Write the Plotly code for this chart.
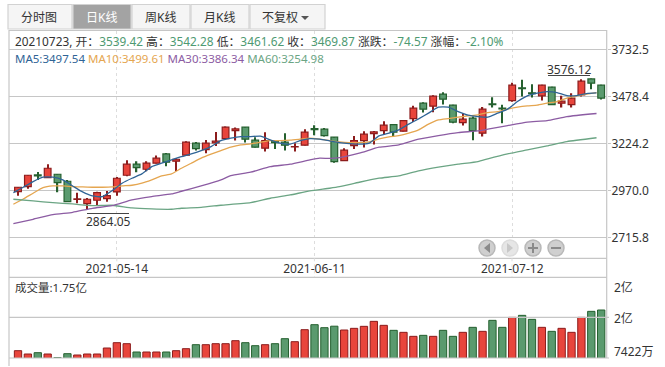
import plotly.graph_objects as go

dates = ["2021-04-27","2021-04-28","2021-04-29","2021-04-30","2021-05-06","2021-05-07","2021-05-10","2021-05-11","2021-05-12","2021-05-13",
"2021-05-14","2021-05-17","2021-05-18","2021-05-19","2021-05-20","2021-05-21","2021-05-24","2021-05-25","2021-05-26","2021-05-27",
"2021-05-28","2021-05-31","2021-06-01","2021-06-02","2021-06-03","2021-06-04","2021-06-07","2021-06-08","2021-06-09","2021-06-10",
"2021-06-11","2021-06-15","2021-06-16","2021-06-17","2021-06-18","2021-06-21","2021-06-22","2021-06-23","2021-06-24","2021-06-25",
"2021-06-28","2021-06-29","2021-06-30","2021-07-01","2021-07-02","2021-07-05","2021-07-06","2021-07-07","2021-07-08","2021-07-09",
"2021-07-12","2021-07-13","2021-07-14","2021-07-15","2021-07-16","2021-07-19","2021-07-20","2021-07-21","2021-07-22","2021-07-23"]

opens = [2963.5,2990.6,3054,3039.3,3057.7,3019.9,2921.3,2898.6,2917,2925.6,
2961.9,3052.3,3111.9,3084.8,3117.3,3167.6,3128.1,3160.6,3225.6,3190.9,
3227.2,3250.5,3293.8,3312.2,3241.8,3198.5,3238,3231,3205.5,3214.8,
3304.6,3301.4,3258.1,3131.4,3212.6,3239.6,3277.6,3293.8,3326.3,3290.5,
3358.8,3442.1,3425.9,3490.9,3431.3,3337.1,3360.9,3279.7,3438.3,3415,
3456.2,3525,3497.9,3481.7,3528.8,3442.1,3434.6,3487.1,3573,3539.42]
highs = [2989,3053.9,3070.2,3111.9,3059.4,3026.9,2958.1,2929.4,2963.5,2967.3,
3043.1,3133.5,3128.1,3128.1,3158.4,3173,3144.4,3236.4,3232.6,3243.4,
3286.8,3315.5,3310,3313.8,3258.1,3285.1,3243.4,3279.7,3225.6,3301.4,
3323,3308.4,3259.7,3198.5,3265.1,3290.5,3292.2,3344.7,3328.4,3351.7,
3427.5,3447.5,3485.4,3501.7,3432.9,3388,3369.6,3422,3474.6,3432.9,
3552,3568.3,3545,3541.2,3530.4,3481.7,3496.3,3572,3576.12,3542.28]
lows = [2941.9,2979.8,3026.9,3037.7,2960.3,2907.8,2900.7,2864.05,2886.1,2909.4,
2941.9,3047,3068.6,3074,3115.2,3101,3075.6,3156.8,3185.5,3171.4,
3211,3248.9,3239.6,3228.8,3201.8,3180.1,3194.7,3185.5,3180.1,3213.7,
3268.9,3262.4,3120.5,3129.7,3194.7,3201.8,3218,3272.1,3263.5,3289.4,
3340.9,3391.2,3393.4,3434.6,3333.8,3320.9,3241.8,3261.3,3418.3,3333.8,
3449.2,3477.9,3472.4,3456.2,3432.9,3418.3,3418.3,3477.9,3517.9,3461.62]
closes = [2987.4,3052.3,3048.5,3090.2,3012.3,2909.4,2924,2922.4,2958.1,2941.9,
3036.1,3111.9,3093.5,3117.3,3144.4,3122.7,3138.9,3231,3196.3,3225.6,
3236.4,3312.2,3303,3247.2,3203.9,3239.6,3228.8,3214.8,3207.2,3285.1,
3299.2,3266.7,3126,3187.7,3239.6,3274.3,3286.8,3323,3285.1,3347.9,
3415,3409.6,3480,3463.8,3339.3,3355.5,3293.8,3409.6,3434.6,3411.3,
3539.6,3521.2,3494.1,3539.6,3434.6,3452.9,3469.2,3561.2,3550.4,3469.87]
volumes = [0.896,0.826,0.854,0.826,0.749,0.833,0.805,0.826,0.826,0.952,
1.064,1.043,0.868,0.868,0.868,0.868,0.896,0.938,1.022,1.022,
1.043,1.043,1.106,1.064,1.001,1.022,1.043,1.148,1.085,1.337,
1.442,1.379,1.41,1.33,1.365,1.407,1.512,1.428,1.323,1.281,
1.197,1.218,1.197,1.323,1.197,1.281,1.386,1.302,1.533,1.386,
1.596,1.638,1.554,1.386,1.302,1.365,1.281,1.596,1.722,1.75]

ma5 = [2958.1,2987.4,3017.7,3041.5,3041.5,3026.9,2994.4,2961.9,2940.3,2936.5,
2969,3009,3036.1,3059.4,3098.9,3117.3,3135.2,3153,3167.6,3185.5,
3207.2,3239.6,3252.6,3261.3,3261.3,3263.5,3243.4,3225.6,3220.2,3239.6,
3250.5,3247.2,3238,3228.8,3223.4,3220.2,3225.6,3265.1,3279.7,3297.6,
3328.4,3357.1,3388,3420.5,3420.5,3396.6,3377.2,3369.6,3366.3,3388,
3409.6,3450.8,3481.7,3496.3,3504.9,3499.5,3483.3,3483.3,3494.1,3497.54]
ma10 = [2895.3,2924,2954.9,2985.2,2994.4,2994.4,2990.6,2989,2987.4,2987.4,
2989,2994.4,2998.2,3009,3026.9,3048.5,3059.4,3090.2,3117.3,3144.4,
3166,3185.5,3203.9,3216.4,3221.8,3231,3239.6,3239.6,3241.8,3247.2,
3252.6,3247.2,3239.6,3232.6,3228.8,3228.8,3232.6,3248.9,3259.7,3266.7,
3279.7,3297.6,3328.4,3351.7,3358.8,3366.3,3373.4,3378.8,3391.2,3396.6,
3409.6,3420.5,3427.5,3431.3,3442.1,3450.8,3469.2,3481.7,3490.9,3499.61]
ma30_days = [0,2,4,6,8,10,12,14,16,17,19,21,22,24,26,28,30,31,32,33,35,37,39,41,43,45,47,48,50,52,54,56,59]
ma30 = [2790.3,2814.1,2839,2852,2873.6,2887.7,2918.6,2936.5,2951.1,2965.7,2994.4,3026.9,3050.2,3068.6,3098.9,3111.9,3135.2,3144.4,3143,3147.6,3171.4,3203.9,3216.4,3247.2,3266.7,3283,3292.2,3301.4,3320.9,3339.3,3347.9,3369.6,3386.34]
ma60_days = [0,2,4,6,8,10,12,14,16,17,19,21,24,26,28,30,32,33,35,37,39,41,43,45,47,48,50,52,54,56,59]
ma60 = [2922.4,2913.2,2904,2896.9,2887.7,2889.9,2875.3,2869.9,2868.3,2873.6,2879,2889.9,2904,2927.8,2945.7,2967.3,2981.9,2990.6,3014.4,3036.1,3048.5,3075.6,3095.6,3111.9,3126,3140.6,3167.6,3189.3,3211,3234.2,3254.98]

price_ticks = [3732.5,3478.4,3224.2,2970.0,2715.8]
date_ticks = [10,30,50]
tabs = ["分时图","日K线","周K线","月K线","不复权"]

FONT = "Noto Sans, Noto Sans CJK SC, sans-serif"
UP, UP_D = "#e8453c", "#8c1c1c"
DN, DN_D = "#5a9a6e", "#25602f"
GRID = "#c6c6c6"
TXT = "#333333"
W, H = 665, 367
L, R, T, B = 9, 607, 30, 358

def px(x): return (x - L) / (R - L)
def py(y): return (B - y) / (B - T)
MA_SHIFT = 0.47

days = list(range(60))
rising = [c >= o for o, c in zip(opens, closes)]
fill = [UP if r else DN for r in rising]
edge = [UP_D if r else DN_D for r in rising]

fig = go.Figure()
# wicks
fig.add_trace(go.Bar(x=days, y=[h - l for h, l in zip(highs, lows)], base=lows, width=0.13,
    marker=dict(color=edge, line=dict(width=0)), showlegend=False, hoverinfo="skip", xaxis="x", yaxis="y"))
# bodies
fig.add_trace(go.Bar(x=days, y=[abs(c - o) for o, c in zip(opens, closes)], base=[min(o, c) for o, c in zip(opens, closes)],
    width=0.68, marker=dict(color=fill, line=dict(color=edge, width=1.2)),
    showlegend=False, hoverinfo="skip", xaxis="x", yaxis="y"))
def ma_line(xs, vals, color, smooth=0.5):
    fig.add_trace(go.Scatter(x=[d - MA_SHIFT for d in xs], y=vals, mode="lines",
        line=dict(color=color, width=1.3, shape="spline", smoothing=smooth),
        showlegend=False, hoverinfo="skip", xaxis="x", yaxis="y"))
BLUE, ORANGE, PURPLE, TEAL = "#2f6496", "#e5a650", "#8c5ca3", "#6ba584"
ma_line(days, ma10, ORANGE)
ma_line(ma60_days, ma60, TEAL)
ma_line(ma30_days, ma30, PURPLE)
ma_line(days, ma5, BLUE)
fig.add_trace(go.Bar(x=days, y=volumes, width=0.74,
    marker=dict(color=fill, line=dict(color=edge, width=1)),
    showlegend=False, hoverinfo="skip", xaxis="x2", yaxis="y2"))

shapes, ann = [], []
def rect(x0, y0, x1, y1, fillc, line, lw=1):
    shapes.append(dict(type="rect", xref="paper", yref="paper", x0=px(x0), x1=px(x1), y0=py(y0), y1=py(y1),
                       fillcolor=fillc, line=dict(color=line, width=lw), layer="above"))
def hline(x0, x1, y, color=GRID, lw=1.2):
    shapes.append(dict(type="line", xref="paper", yref="paper", x0=px(x0), x1=px(x1), y0=py(y), y1=py(y),
                       line=dict(color=color, width=lw), layer="above"))
def vline(x, y0, y1, color=GRID, lw=1.2, dash="solid"):
    shapes.append(dict(type="line", xref="paper", yref="paper", x0=px(x), x1=px(x), y0=py(y0), y1=py(y1),
                       line=dict(color=color, width=lw, dash=dash), layer="above"))
def text(x, y, s, anchor="left", size=12, color=TXT):
    ann.append(dict(xref="paper", yref="paper", x=px(x), y=py(y), text=s, showarrow=False, xanchor=anchor,
                    yanchor="middle", align=anchor, font=dict(family=FONT, size=size, color=color)))

# frame
hline(9, 607, 30.5); hline(9, 607, 258.3); hline(9, 607, 277.3); hline(9, 609, 317.3); hline(9, 609, 358)
vline(9, 30, 366); vline(606.7, 30, 358)
for d in date_ticks:
    vline(18 + 9.88 * d, 258.3, 277, "#dddddd", 1, "dot")

# tabs
edges = [(8, 72), (73, 131), (132, 190), (191, 249), (250, 325)]
centers = [39, 101, 160, 219, 280]
for k, ((a, b), c, s) in enumerate(zip(edges, centers, tabs)):
    active = k == 1
    rect(a, 4.5, b, 29, "#a3a3a3" if active else "#f5f5f5", "#d2d2d2", 1.2)
    text(c, 17.5, s, "center", 12, "#ffffff" if active else TXT)
shapes.append(dict(type="path", xref="paper", yref="paper", layer="above", fillcolor="#555555", line=dict(width=0),
    path=f"M{px(301)},{py(16)} L{px(309)},{py(16)} L{px(305)},{py(20)} Z"))

# header
G = "#4e9a72"
def sp(s, c): return f"<span style='color:{c}'>{s}</span>"
header = ("20210723, 开：" + sp("3539.42", G) + " 高：" + sp("3542.28", G) + " 低：" + sp("3461.62", G) +
          " 收：" + sp("3469.87", G) + " 涨跌：" + sp("-74.57", G) + " 涨幅：" + sp("-2.10%", G))
text(13, 41, header, size=11.85)
legend = (sp("MA5:3497.54", BLUE) + " " + sp("MA10:3499.61", ORANGE) + " " + sp("MA30:3386.34", PURPLE) + " " + sp("MA60:3254.98", TEAL))
text(13, 58.5, legend, size=11.5)

# extremes
ann.append(dict(xref="x", yref="y", x=58, y=3576.12, text="3576.12", showarrow=False, xanchor="center", yanchor="middle",
                xshift=-22, yshift=9, font=dict(family=FONT, size=12, color=TXT)))
hline(548, 590, 75.5, "#444444", 1)
ann.append(dict(xref="x", yref="y", x=7, y=2864.05, text="2864.05", showarrow=False, xanchor="center", yanchor="middle",
                xshift=21, yshift=-11, font=dict(family=FONT, size=12, color=TXT)))
hline(87, 129, 213.5, "#444444", 1)

# volume labels
text(13, 287, "成交量:1.75亿", size=11.5)
text(611.5, 287.5, "2亿"); text(611.5, 318.5, "2亿"); text(611.5, 351, "7422万")

# zoom buttons
for cx, fc, glyph in [(487, "#cfcfcf", "l"), (510, "#e6e6e6", "r"), (533, "#cfcfcf", "+"), (556, "#cfcfcf", "-")]:
    r = 8
    shapes.append(dict(type="circle", xref="paper", yref="paper", layer="above", x0=px(cx-r), x1=px(cx+r), y0=py(248-r), y1=py(248+r),
                       fillcolor=fc, line=dict(color="#b8b8b8" if fc == "#cfcfcf" else "#dcdcdc", width=1.5)))
    gc = "#8a8a8a" if fc == "#cfcfcf" else "#c8c8c8"
    if glyph == "l":
        p = f"M{px(cx+3)},{py(243)} L{px(cx+3)},{py(253)} L{px(cx-3)},{py(248)} Z"
    elif glyph == "r":
        p = f"M{px(cx-3)},{py(243)} L{px(cx-3)},{py(253)} L{px(cx+3)},{py(248)} Z"
    elif glyph == "+":
        p = (f"M{px(cx-5)},{py(247)} L{px(cx-1)},{py(247)} L{px(cx-1)},{py(243)} L{px(cx+1)},{py(243)} L{px(cx+1)},{py(247)} "
             f"L{px(cx+5)},{py(247)} L{px(cx+5)},{py(249)} L{px(cx+1)},{py(249)} L{px(cx+1)},{py(253)} L{px(cx-1)},{py(253)} "
             f"L{px(cx-1)},{py(249)} L{px(cx-5)},{py(249)} Z")
    else:
        p = f"M{px(cx-5)},{py(247)} L{px(cx+5)},{py(247)} L{px(cx+5)},{py(249)} L{px(cx-5)},{py(249)} Z"
    shapes.append(dict(type="path", xref="paper", yref="paper", layer="above", path=p, fillcolor=gc, line=dict(width=0)))

fig.update_layout(
    width=W, height=H, margin=dict(l=L, r=W - R, t=T, b=H - B, pad=0),
    paper_bgcolor="white", plot_bgcolor="white", showlegend=False, barmode="overlay",
    font=dict(family=FONT, size=12, color=TXT), shapes=shapes, annotations=ann,
    xaxis=dict(domain=[0, 1], anchor="y", range=[-0.911, 59.59],
               tickmode="array", tickvals=date_ticks, ticktext=[dates[d] for d in date_ticks],
               showgrid=True, gridcolor="#dddddd", griddash="dot", gridwidth=1, zeroline=False, showline=False,
               ticks="", tickfont=dict(family=FONT, size=12, color=TXT), ticklabelstandoff=2),
    yaxis=dict(domain=[py(258.3), py(30.5)], anchor="x", side="right", range=[2603.0, 3835.2],
               tickmode="array", tickvals=price_ticks, ticktext=[f"{v:.1f}" for v in price_ticks],
               showgrid=True, gridcolor=GRID, gridwidth=1.2, zeroline=False, showline=False,
               ticks="outside", ticklen=3, tickcolor=GRID, ticklabelstandoff=-2, tickfont=dict(family=FONT, size=12, color=TXT)),
    xaxis2=dict(domain=[0, 1], anchor="y2", range=[-0.911, 59.59], visible=False),
    yaxis2=dict(domain=[0, py(277.3)], anchor="x2", side="right", range=[0.7422, 2.437], visible=False),
)
fig.write_html("out.html", config=dict(displayModeBar=False),
               post_script="document.body.style.margin='0';document.body.style.overflow='hidden';")
